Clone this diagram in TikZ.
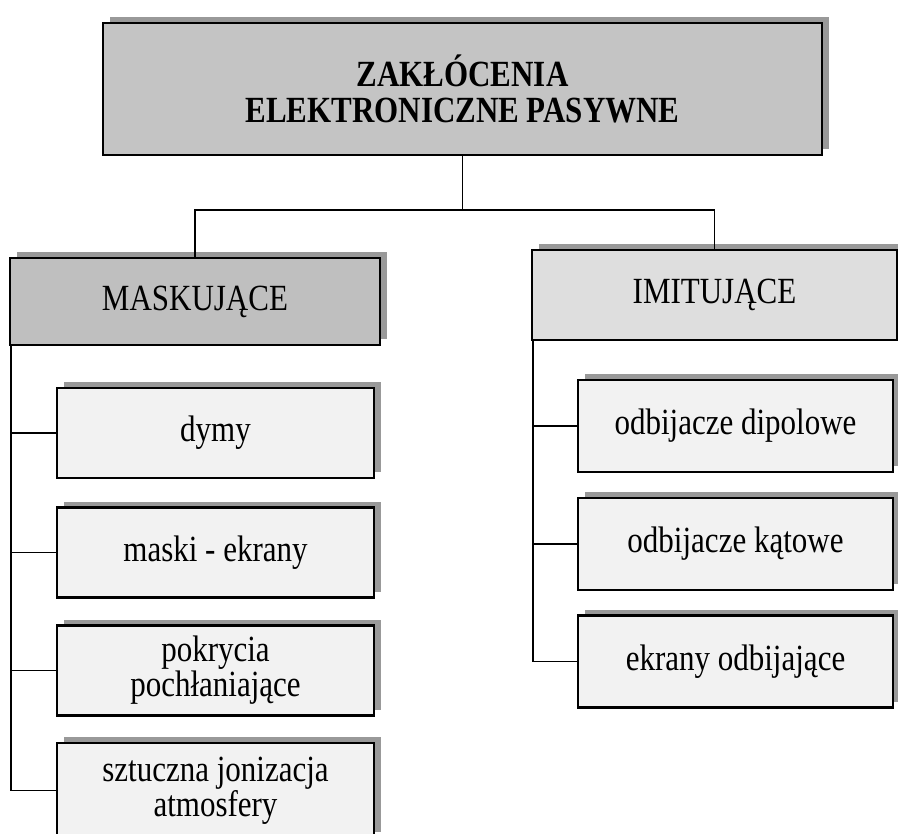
\documentclass[tikz,border=0pt]{standalone}
\usepackage{fontspec}
\setmainfont{Liberation Serif}[FakeStretch=0.84]
\usetikzlibrary{positioning, shadows}
\tikzset{
  box/.style   = {rectangle, draw, line width=2pt, align=center, inner sep=0pt,
                  font=\fontsize{31.5}{30}\selectfont,
                  drop shadow={shadow xshift=0.21cm, shadow yshift=0.18cm, fill=black!40, opacity=1}},
  hdr/.style   = {box, fill=black!23, font=\fontsize{31.5}{30}\selectfont\bfseries},
  grp/.style   = {box, fill=black!25},
  grpl/.style  = {box, fill=black!13},
  item/.style  = {box, fill=black!5, minimum height=2.7cm},
  conn/.style  = {draw=black, line width=1.6pt}
}

\begin{document}
\begin{tikzpicture}
\useasboundingbox (0,0) rectangle (26.94,-24.99);
\clip (0,0) rectangle (26.94,-24.99);
%% ===== top =====
\node[hdr, minimum width=21.57cm, minimum height=3.96cm] (top) at (13.875,-2.67)
  {ZAKŁÓCENIA\\ELEKTRONICZNE PASYWNE};
\coordinate (split) at (13.875,-6.3);
%% ===== groups =====
\node[grp, minimum width=11.1cm, minimum height=2.61cm] (mask) at (5.85,-9.045) {MASKUJĄCE};
\node[grpl, minimum width=10.95cm, minimum height=2.7cm] (imit) at (21.435,-8.85) {IMITUJĄCE};
%% ===== left column =====
\node[item, minimum width=9.51cm] (dym) at (6.465,-12.99) {dymy};
\node[item, minimum width=9.51cm] (mas) at (6.465,-16.575) {maski - ekrany};
\node[item, minimum width=9.51cm] (pok) at (6.465,-20.115) {pokrycia\\pochłaniające};
\node[item, minimum width=9.51cm, minimum height=2.85cm] (szt) at (6.465,-23.715)
  {sztuczna jonizacja\\atmosfery};
%% ===== right column =====
\node[item, minimum width=9.45cm, minimum height=2.76cm] (dip) at (22.065,-12.78) {odbijacze dipolowe};
\node[item, minimum width=9.45cm, minimum height=2.76cm] (kat) at (22.065,-16.32) {odbijacze kątowe};
\node[item, minimum width=9.45cm, minimum height=2.76cm] (ekr) at (22.065,-19.845) {ekrany odbijające};
%% ===== connectors =====
\draw[conn] (top.south) -- (split);
\draw[conn] (mask.north) |- (split) -| (imit.north);
\foreach \n in {dym, mas, pok, szt}
  \draw[conn] ([xshift=0.06cm]mask.south west) |- (\n.west);
\foreach \n in {dip, kat, ekr}
  \draw[conn] ([xshift=0.06cm]imit.south west) |- (\n.west);
\end{tikzpicture}
\end{document}
